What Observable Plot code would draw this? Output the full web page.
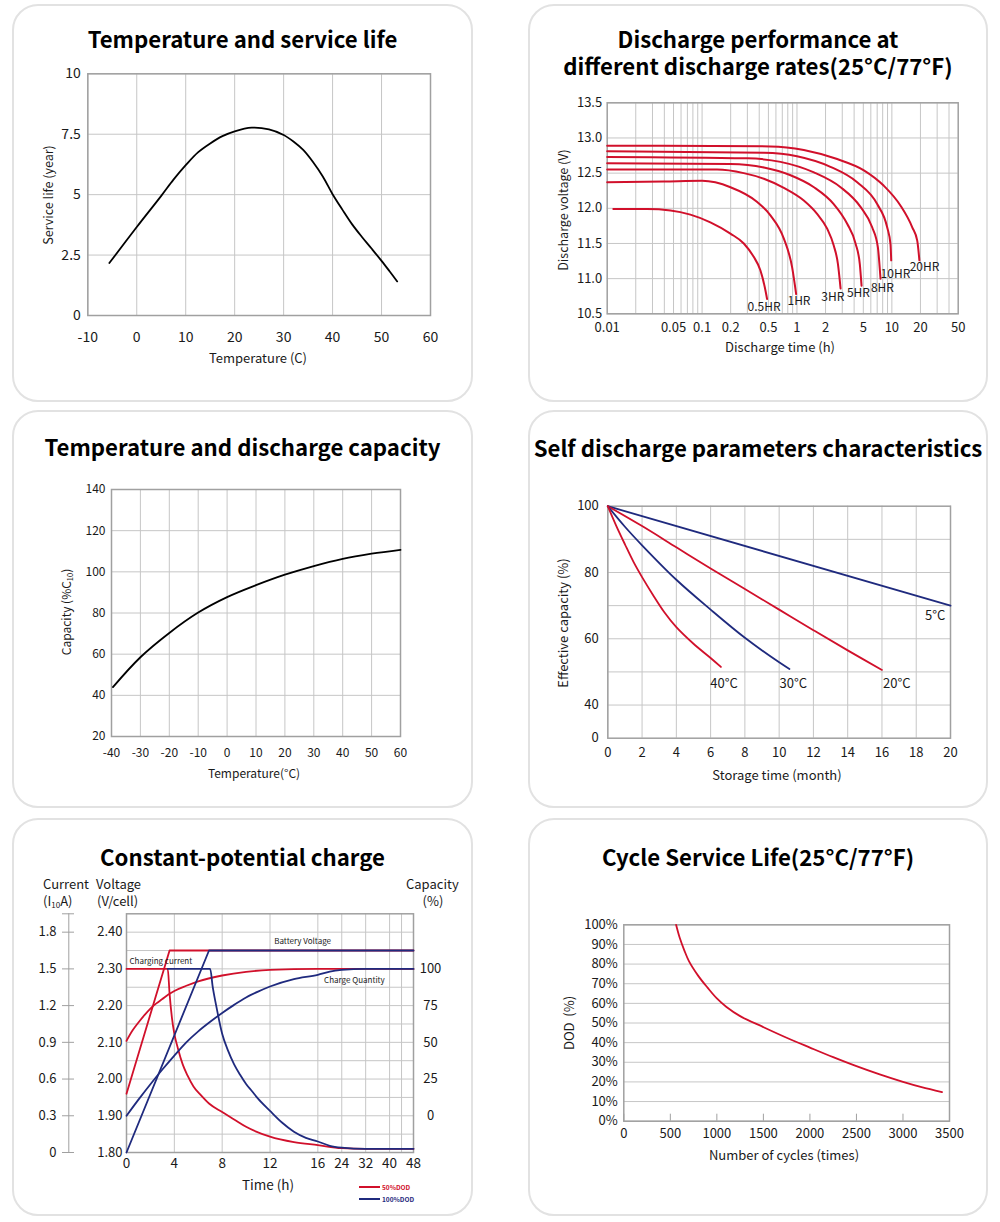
<!DOCTYPE html>
<html><head><meta charset="utf-8">
<script src="https://cdn.jsdelivr.net/npm/d3@7"></script>
<script src="https://cdn.jsdelivr.net/npm/@observablehq/plot@0.6"></script>
<style>
body{margin:0;background:#fff;}
#root{position:relative;width:1000px;height:1222px;overflow:hidden;font-family:'Noto Sans CJK SC','Noto Sans',sans-serif;color:#1a1a1a;}
.card{position:absolute;border:2px solid #e2e2e2;border-radius:26px;box-sizing:border-box;}
.title{position:absolute;text-align:center;font-weight:700;font-size:22.2px;line-height:26px;color:#000;white-space:nowrap;}
.lab{position:absolute;white-space:nowrap;line-height:1;}
.lab sub{font-size:0.62em;vertical-align:-0.25em;line-height:0;}
</style></head><body><div id="root"></div>
<script>
const FONT = "'Noto Sans CJK SC','Noto Sans',sans-serif";
const RED = "#d1102b", NAVY = "#1f2a7e", GRID = "#c6c6c6", FRAME = "#a0a0a0", INK = "#1a1a1a";

// ---------- Panel 1: Temperature and service life ----------
const lifeTemp  = [-5.6, 0, 5, 7.5, 10, 12.5, 15, 17.5, 20, 23.5, 27, 30, 32, 34, 36, 38, 40, 42, 44, 46, 48, 50, 51.6, 53.2];
const lifeYears = [2.17, 3.66, 4.95, 5.62, 6.22, 6.75, 7.12, 7.42, 7.62, 7.77, 7.7, 7.47, 7.2, 6.85, 6.35, 5.75, 5.02, 4.38, 3.77, 3.25, 2.76, 2.26, 1.84, 1.41];
const lifeXTicks = [-10, 0, 10, 20, 30, 40, 50, 60];
const lifeYTicks = [0, 2.5, 5, 7.5, 10];

// ---------- Panel 2: Discharge performance ----------
const rateNames = ["0.5HR", "1HR", "3HR", "5HR", "8HR", "10HR", "20HR"];
const rate05T = [0.0116, 0.0264, 0.0465, 0.0753, 0.1223, 0.1988, 0.2752, 0.3499, 0.4113, 0.4574, 0.4839];
const rate05V = [11.99, 11.99, 11.97, 11.91, 11.80, 11.64, 11.50, 11.31, 11.12, 10.88, 10.71];
const rate1T  = [0.01, 0.0395, 0.1, 0.199, 0.381, 0.525, 0.727, 0.889, 0.98];
const rate1V  = [12.37, 12.38, 12.39, 12.30, 12.09, 11.90, 11.57, 11.16, 10.78];
const rate3T  = [0.01, 0.144, 0.275, 0.448, 0.727, 1.18, 1.63, 2.08, 2.44, 2.70, 2.88];
const rate3V  = [12.55, 12.55, 12.50, 12.42, 12.29, 12.11, 11.92, 11.71, 11.47, 11.21, 10.86];
const rate5T  = [0.01, 0.199, 0.448, 0.855, 1.51, 2.44, 3.38, 4.14, 4.59, 4.79];
const rate5V  = [12.64, 12.63, 12.58, 12.47, 12.30, 12.06, 11.78, 11.50, 11.21, 10.90];
const rate8T  = [0.01, 0.3, 0.67, 1.51, 2.88, 4.67, 6.2, 7.11, 7.59];
const rate8V  = [12.73, 12.71, 12.66, 12.51, 12.30, 12.02, 11.73, 11.45, 11.0];
const rate10T = [0.01, 0.448, 1.0, 2.25, 4.31, 7.0, 8.92, 9.67, 9.84];
const rate10V = [12.81, 12.79, 12.74, 12.59, 12.37, 12.06, 11.73, 11.49, 11.26];
const rate20T = [0.01, 0.526, 1.18, 2.65, 5.07, 8.23, 12.3, 16.4, 18.5, 19.5];
const rate20V = [12.89, 12.88, 12.83, 12.70, 12.54, 12.32, 12.04, 11.73, 11.54, 11.26];
const rateLabelT = [0.449, 1.05, 2.39, 4.44, 7.96, 10.9, 22.1];
const rateLabelV = [10.60, 10.675, 10.73, 10.79, 10.86, 11.07, 11.16];
const dischXTicks = [0.01, 0.05, 0.1, 0.2, 0.5, 1, 2, 5, 10, 20, 50];
const dischXGrid = [0.02,0.03,0.04,0.05,0.06,0.07,0.08,0.09,0.1,0.2,0.3,0.4,0.5,0.6,0.7,0.8,0.9,1,2,3,4,5,6,7,8,9,10,20,30,40];
const dischYTicks = [10.5, 11.0, 11.5, 12.0, 12.5, 13.0, 13.5];

// ---------- Panel 3: Temperature and discharge capacity ----------
const capTemp = [-39.5, -30, -20, -10, 0, 10, 20, 30, 40, 50, 60];
const capPct  = [44, 58.5, 70.3, 80.2, 87.7, 93.5, 98.6, 102.8, 106.3, 108.8, 110.7];
const capXTicks = [-40, -30, -20, -10, 0, 10, 20, 30, 40, 50, 60];
const capYTicks = [20, 40, 60, 80, 100, 120, 140];

// ---------- Panel 4: Self discharge ----------
const sdNames = ["5°C", "20°C", "30°C", "40°C"];
const sd5T  = [0, 20];
const sd5C  = [100, 70];
const sd20T = [0, 2, 4, 6, 8, 10, 12, 14, 16];
const sd20C = [100, 94, 87.6, 81.2, 75, 68.8, 62.6, 56.5, 50.6];
const sd30T = [0, 1, 2, 4, 6, 8, 10, 10.6];
const sd30C = [100, 93.8, 88.2, 77.8, 68.8, 60.3, 52.9, 50.9];
const sd40T = [0, 0.5, 1, 1.5, 2, 2.7, 3.3, 4, 5, 6, 6.6];
const sd40C = [100, 94, 88.5, 83.2, 78.6, 72.7, 68, 63.5, 58.5, 54.2, 51.5];
const sdLabelT = [19.1, 16.87, 10.83, 6.78];
const sdLabelC = [67.0, 46.5, 46.5, 46.5];
const sdXTicks = [0, 2, 4, 6, 8, 10, 12, 14, 16, 18, 20];
const sdYTicks = [0, 40, 60, 80, 100];
const sdYGrid = [40, 50, 60, 70, 80, 90];
const sdBreak = c => (c >= 40 ? c : 30 + c / 4);   // axis break: 0–40 squeezed into one 10% row

// ---------- Panel 5: Constant-potential charge ----------
const chgVolt50T  = [0, 3.6, 48];
const chgVolt50   = [1.96, 2.35, 2.35];
const chgVolt100T = [0, 6.9, 48];
const chgVolt100  = [1.80, 2.35, 2.35];
const chgCur50T  = [0, 3.45, 3.6, 3.8, 4.0, 4.3, 4.7, 5.1, 5.6, 6.2, 6.9, 8, 9, 10, 12, 14, 16, 24, 32, 48];
const chgCur50   = [1.5, 1.5, 1.3, 1.1, 0.97, 0.85, 0.72, 0.63, 0.54, 0.47, 0.40, 0.33, 0.27, 0.21, 0.13, 0.085, 0.06, 0.035, 0.03, 0.03];
const chgCur100T = [3.45, 7.0, 7.2, 7.5, 8, 8.5, 9, 9.5, 10, 10.5, 11, 12, 13, 14, 15, 16, 20, 24, 32, 48];
const chgCur100  = [1.5, 1.5, 1.36, 1.2, 0.97, 0.83, 0.72, 0.635, 0.56, 0.5, 0.44, 0.34, 0.245, 0.17, 0.12, 0.09, 0.055, 0.04, 0.03, 0.03];
const chgCap50T  = [0, 0.5, 1, 1.5, 2, 2.5, 3, 3.5, 4, 5, 6, 8, 10, 12, 16, 24, 48];
const chgCap50   = [51, 58, 63.5, 68.5, 73, 76.5, 79.5, 82.5, 85, 88.5, 91.5, 95.5, 98, 99.3, 100, 100, 100];
const chgCap100T = [0, 1, 2, 3, 4, 5, 6, 7, 8, 9, 10, 11, 12, 14, 16, 20, 24, 32, 48];
const chgCap100  = [0, 11, 21.5, 31.5, 41, 50, 57.5, 64, 70, 75.5, 80.5, 84.5, 88, 93, 96, 98.2, 99.3, 100, 100];
const chgXTicks = [0, 4, 8, 12, 16, 24, 32, 40, 48];
const chgXGrid = [4, 8, 12, 16, 24, 32, 40, 44];
const chgVoltTicks = [1.80, 1.90, 2.00, 2.10, 2.20, 2.30, 2.40];
const chgCurrentLabels = ["0", "0.3", "0.6", "0.9", "1.2", "1.5", "1.8"];
const chgCapTicks = [0, 25, 50, 75, 100];
const chgYGrid = [1.85, 1.90, 1.95, 2.00, 2.05, 2.10, 2.15, 2.20, 2.25, 2.30, 2.35, 2.40];
const chgNotes = ["Battery Voltage", "Charging current", "Charge Quantity"];
const chgNoteT = [12.35, 0.25, 18.1];
const chgNoteV = [2.374, 2.319, 2.268];
const curToV = i => 1.8 + i / 3;      // current axis 0..1.8 ↔ 1.80..2.40 V
const capToV = c => 1.9 + c / 250;    // capacity axis 0..100 ↔ 1.90..2.30 V
const chgFold = t => (t <= 16 ? t : 16 + (t - 16) / 4);  // time axis: 16–48 h compressed 4×

// ---------- Panel 6: Cycle service life ----------
const cycN   = [562, 600, 650, 700, 800, 900, 1000, 1100, 1250, 1500, 1750, 2000, 2250, 2500, 2750, 3000, 3200, 3420];
const cycDod = [100, 93.5, 87, 81.5, 74, 68, 62.5, 58.3, 53.5, 47.9, 42.5, 37.5, 32.6, 28, 23.8, 20, 17.3, 14.8];
const cycXTicks = [0, 500, 1000, 1500, 2000, 2500, 3000, 3500];
const cycYTicks = [0, 10, 20, 30, 40, 50, 60, 70, 80, 90, 100];

// ---------- helpers ----------
const root = document.getElementById("root");
function addDiv(cls, html, styles) {
  const d = document.createElement("div");
  d.className = cls; d.innerHTML = html; Object.assign(d.style, styles); root.appendChild(d); return d;
}
function card(x, y, w, h) { addDiv("card", "", {left: x + "px", top: y + "px", width: w + "px", height: h + "px"}); }
function title(html, x, w, top) { addDiv("title", html, {left: x + "px", width: w + "px", top: top + "px"}); }
function label(html, cx, cy, o = {}) {
  const {rotate = false, size = 13, anchor = "middle", color = INK, weight = 400} = o;
  const tx = anchor === "middle" ? "-50%" : anchor === "end" ? "-100%" : "0";
  addDiv("lab", html, {left: cx + "px", top: cy + "px", fontSize: size + "px", color, fontWeight: weight,
    transform: `translate(${tx},-50%)` + (rotate ? " rotate(-90deg)" : "")});
}
function place(svg, x, y) { svg.style.position = "absolute"; svg.style.left = x + "px"; svg.style.top = y + "px"; root.appendChild(svg); }
function margins(sx, sy, w, h, f) {
  return {width: w, height: h, marginLeft: f[0] - sx, marginRight: sx + w - f[1], marginTop: f[2] - sy, marginBottom: sy + h - f[3]};
}
const zipT = (xs, ys) => xs.map((x, i) => ({x, y: ys[i]}));
const style = {fontFamily: FONT, fontSize: "13px", color: INK, background: "none", overflow: "visible"};
const fmt = d => String(d);

// ---------- cards ----------
const CW = 461, CH = 398;
const cards = [[12, 4], [528, 4], [12, 410], [528, 410], [12, 818], [528, 818]];
cards.forEach(([x, y]) => card(x, y, x === 12 ? CW : 460, CH));

// ---------- Panel 1 ----------
title("Temperature and service life", 12, CW, 25);
place(Plot.plot({
  ...margins(12, 54, CW, 348, [87.3, 430, 73.3, 315]), style,
  x: {domain: [-10, 60]}, y: {domain: [0, 10]},
  marks: [
    Plot.gridX(lifeXTicks, {stroke: GRID, strokeOpacity: 1}),
    Plot.gridY(lifeYTicks, {stroke: GRID, strokeOpacity: 1}),
    Plot.frame({stroke: FRAME, strokeWidth: 1.5}),
    Plot.axisX(lifeXTicks, {tickSize: 0, tickPadding: 17, fontSize: 14, tickFormat: fmt, label: null}),
    Plot.axisY(lifeYTicks, {tickSize: 0, tickPadding: 7, fontSize: 14, tickFormat: fmt, label: null}),
    Plot.line(zipT(lifeTemp, lifeYears), {x: "x", y: "y", stroke: "#000", strokeWidth: 1.8, curve: "catmull-rom"})
  ]
}), 12, 54);
label("Service life (year)", 48, 195, {rotate: true, size: 12.5});
label("Temperature (C)", 258, 357, {size: 13});

// ---------- Panel 2 ----------
title("Discharge performance at", 528, 460, 25);
title("different discharge rates(25°C/77°F)", 528, 460, 52);
const rateSeries = [[rate05T, rate05V], [rate1T, rate1V], [rate3T, rate3V], [rate5T, rate5V], [rate8T, rate8V], [rate10T, rate10V], [rate20T, rate20V]];
place(Plot.plot({
  ...margins(528, 54, 460, 348, [606.7, 957.7, 102.3, 313.3]), style,
  x: {type: "log", domain: [0.01, 50], axis: null}, y: {domain: [10.5, 13.5]},
  marks: [
    Plot.gridX(dischXGrid, {stroke: GRID, strokeOpacity: 1}),
    Plot.gridY(dischYTicks, {stroke: GRID, strokeOpacity: 1}),
    Plot.frame({stroke: FRAME, strokeWidth: 1.5}),
    Plot.text(dischXTicks, {x: d => d, text: fmt, frameAnchor: "bottom", lineAnchor: "top", dy: 8.5, fontSize: 13, fill: INK}),
    Plot.axisY(dischYTicks, {tickSize: 0, tickPadding: 5, fontSize: 13, tickFormat: d3.format(".1f"), label: null}),
    ...rateSeries.map(([t, v]) => Plot.line(zipT(t, v), {x: "x", y: "y", stroke: RED, strokeWidth: 2, curve: "monotone-x"})),
    Plot.text(rateNames.map((s, i) => ({s, x: rateLabelT[i], y: rateLabelV[i]})), {x: "x", y: "y", text: "s", fontSize: 12, fill: INK})
  ]
}), 528, 54);
label("Discharge voltage (V)", 563, 210, {rotate: true, size: 12.5});
label("Discharge time (h)", 780, 346, {size: 13});

// ---------- Panel 3 ----------
title("Temperature and discharge capacity", 12, CW, 433);
place(Plot.plot({
  ...margins(12, 460, CW, 348, [111, 400, 489, 736]), style,
  x: {domain: [-40, 60]}, y: {domain: [20, 140]},
  marks: [
    Plot.gridX(capXTicks, {stroke: GRID, strokeOpacity: 1}),
    Plot.gridY(capYTicks, {stroke: GRID, strokeOpacity: 1}),
    Plot.frame({stroke: FRAME, strokeWidth: 1.5}),
    Plot.axisX(capXTicks, {tickSize: 0, tickPadding: 12, fontSize: 12, tickFormat: fmt, label: null}),
    Plot.axisY(capYTicks, {tickSize: 0, tickPadding: 6, fontSize: 12, tickFormat: fmt, label: null}),
    Plot.line(zipT(capTemp, capPct), {x: "x", y: "y", stroke: "#000", strokeWidth: 1.8, curve: "catmull-rom"})
  ]
}), 12, 460);
label("Capacity (%C<sub>10</sub>)", 66, 612, {rotate: true, size: 12});
label("Temperature(°C)", 254, 773, {size: 12});

// ---------- Panel 4 ----------
title("Self discharge parameters characteristics", 528, 460, 434);
const sdSeries = [[sd5T, sd5C, NAVY], [sd20T, sd20C, RED], [sd30T, sd30C, NAVY], [sd40T, sd40C, RED]];
place(Plot.plot({
  ...margins(528, 460, 460, 348, [607.3, 950, 505.7, 737.7]), style,
  x: {domain: [0, 20]},
  y: {transform: sdBreak, domain: [30, 100]},
  marks: [
    Plot.gridX(sdXTicks, {stroke: GRID, strokeOpacity: 1}),
    Plot.gridY(sdYGrid, {stroke: GRID, strokeOpacity: 1}),
    Plot.frame({stroke: FRAME, strokeWidth: 1.5}),
    Plot.axisX(sdXTicks, {tickSize: 0, tickPadding: 9.5, fontSize: 13, tickFormat: fmt, label: null}),
    Plot.axisY(sdYTicks, {tickSize: 0, tickPadding: 9, fontSize: 13, tickFormat: fmt, label: null}),
    ...sdSeries.map(([t, c, col]) => Plot.line(zipT(t, c), {x: "x", y: "y", stroke: col, strokeWidth: 1.8, curve: "catmull-rom"})),
    Plot.text(sdNames.map((s, i) => ({s, x: sdLabelT[i], y: sdLabelC[i]})), {x: "x", y: "y", text: "s", fontSize: 13, fill: INK})
  ]
}), 528, 460);
label("Effective capacity (%)", 562, 623, {rotate: true, size: 13});
label("Storage time (month)", 777, 774, {size: 13});

// ---------- Panel 5 ----------
title("Constant-potential charge", 12, CW, 843);
const vLine = (t, v, col) => Plot.line(zipT(t, v), {x: "x", y: "y", stroke: col, strokeWidth: 1.8});
const cLine = (t, v, f, col) => Plot.line(zipT(t, v.map(f)), {x: "x", y: "y", stroke: col, strokeWidth: 1.8, curve: "monotone-x"});
const cx0 = 126, cxL = 68.3;
place(Plot.plot({
  ...margins(12, 868, CW, 348, [cx0, 413, 913.3, 1152]), style,
  x: {transform: chgFold, domain: [0, 24]},
  y: {domain: [1.8, 2.45]},
  marks: [
    Plot.gridX(chgXGrid, {stroke: GRID, strokeOpacity: 1}),
    Plot.gridY(chgYGrid, {stroke: GRID, strokeOpacity: 1}),
    Plot.frame({stroke: FRAME, strokeWidth: 1.5}),
    Plot.axisX(chgXTicks, {tickSize: 0, tickPadding: 5.5, fontSize: 13.5, tickFormat: fmt, label: null}),
    Plot.axisY(chgVoltTicks, {tickSize: 0, tickPadding: 4, fontSize: 13, tickFormat: d3.format(".2f"), label: null}),
    Plot.axisY(chgVoltTicks, {tickSize: 12, tickPadding: 6, dx: -(cx0 - 74), fontSize: 13, stroke: FRAME,
      tickFormat: (d, i) => chgCurrentLabels[i], label: null}),
    Plot.axisY([2.45], {tickSize: 12, dx: -(cx0 - 74), stroke: FRAME, tickFormat: () => "", label: null}),
    Plot.ruleX([0], {y1: 1.8, y2: 2.45, dx: -(cx0 - cxL), stroke: FRAME, strokeWidth: 1}),
    Plot.axisY(chgCapTicks.map(capToV), {anchor: "right", tickSize: 0, tickPadding: 17, fontSize: 13, textAnchor: "middle",
      tickFormat: (d, i) => String(chgCapTicks[i]), label: null}),
    cLine(chgCur50T, chgCur50, curToV, RED),
    vLine(chgVolt50T, chgVolt50, RED),
    cLine(chgCap50T, chgCap50, capToV, RED),
    cLine(chgCur100T, chgCur100, curToV, NAVY),
    vLine(chgVolt100T, chgVolt100, NAVY),
    cLine(chgCap100T, chgCap100, capToV, NAVY),
    Plot.text(chgNotes.map((s, i) => ({s, x: chgNoteT[i], y: chgNoteV[i]})), {x: "x", y: "y", text: "s", fontSize: 8, textAnchor: "start", fill: INK})
  ]
}), 12, 868);
label("Current", 43, 883, {anchor: "start", size: 13});
label("(I<sub>10</sub>A)", 43, 900, {anchor: "start", size: 13});
label("Voltage", 96, 883, {anchor: "start", size: 13});
label("(V/cell)", 97, 900, {anchor: "start", size: 13});
label("Capacity", 406, 883, {anchor: "start", size: 13});
label("(%)", 433, 900, {size: 13});
label("Time (h)", 268, 1185, {size: 13.5});
// legend
addDiv("lab", "", {left: "359px", top: "1186px", width: "21px", height: "2px", background: RED});
addDiv("lab", "", {left: "359px", top: "1198px", width: "21px", height: "2px", background: NAVY});
label("50%DOD", 382, 1187, {anchor: "start", size: 6.5, color: RED, weight: 700});
label("100%DOD", 382, 1199, {anchor: "start", size: 6.5, color: NAVY, weight: 700});

// ---------- Panel 6 ----------
title("Cycle Service Life(25°C/77°F)", 528, 460, 843);
place(Plot.plot({
  ...margins(528, 868, 460, 348, [623.3, 949, 924.3, 1120.7]), style,
  x: {domain: [0, 3500]}, y: {domain: [0, 100]},
  marks: [
    Plot.gridY(cycYTicks, {stroke: GRID, strokeOpacity: 1}),
    Plot.frame({stroke: FRAME, strokeWidth: 1.5}),
    Plot.axisX(cycXTicks, {tickSize: -7, tickPadding: 15, fontSize: 13, stroke: FRAME, tickFormat: fmt, label: null}),
    Plot.axisY(cycYTicks, {tickSize: 0, tickPadding: 6, fontSize: 13, tickFormat: d => d + "%", label: null}),
    Plot.line(zipT(cycN, cycDod), {x: "x", y: "y", stroke: RED, strokeWidth: 1.8, curve: "catmull-rom"})
  ]
}), 528, 868);
label("DOD&nbsp;&nbsp;(%)", 568, 1023, {rotate: true, size: 13});
label("Number of cycles (times)", 784, 1154, {size: 13});
</script></body></html>
